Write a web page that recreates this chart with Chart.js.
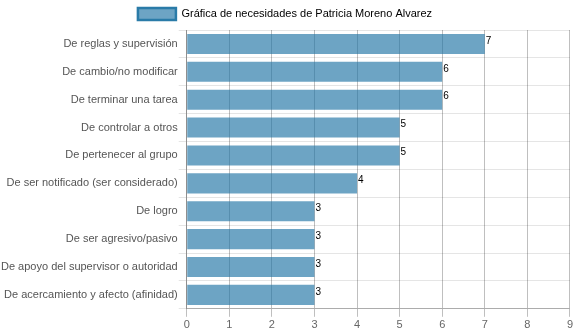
<!DOCTYPE html>
<html>
<head>
<meta charset="utf-8">
<script src="https://cdn.jsdelivr.net/npm/chart.js@4/dist/chart.umd.min.js"></script>
<style>
  html, body { margin: 0; padding: 0; background: #fff; }
  #wrap { width: 575px; height: 334px; }
</style>
</head>
<body>
<div id="wrap"><canvas id="chart"></canvas></div>
<script>
const categories = [
  "De reglas y supervisión",
  "De cambio/no modificar",
  "De terminar una tarea",
  "De controlar a otros",
  "De pertenecer al grupo",
  "De ser notificado (ser considerado)",
  "De logro",
  "De ser agresivo/pasivo",
  "De apoyo del supervisor o autoridad",
  "De acercamiento y afecto (afinidad)"
];
const values = [7, 6, 6, 5, 5, 4, 3, 3, 3, 3];
const seriesLabel = "Gráfica de necesidades de Patricia Moreno Alvarez";
const xTicks = [0, 1, 2, 3, 4, 5, 6, 7, 8, 9];

Chart.defaults.font.family = "'Liberation Sans', Arial, sans-serif";
Chart.defaults.font.size = 11;
Chart.defaults.color = "#666";

// numbers at the end of each bar
const valueLabels = {
  id: "valueLabels",
  afterDatasetsDraw(chart) {
    const ctx = chart.ctx;
    const meta = chart.getDatasetMeta(0);
    ctx.save();
    ctx.font = "10px 'Liberation Sans', Arial, sans-serif";
    ctx.fillStyle = "#000";
    ctx.textAlign = "left";
    ctx.textBaseline = "middle";
    meta.data.forEach((bar, i) => {
      ctx.fillText(values[i], bar.x + 1, bar.y - 3);
    });
    ctx.restore();
  }
};

new Chart(document.getElementById("chart").getContext("2d"), {
  type: "bar",
  data: {
    labels: categories,
    datasets: [{
      label: seriesLabel,
      data: values,
      backgroundColor: "rgba(30, 115, 165, 0.65)",
      borderWidth: 0
    }]
  },
  options: {
    indexAxis: "y",
    responsive: true,
    maintainAspectRatio: false,
    animation: false,
    layout: { padding: { left: 0, right: 5, top: 0, bottom: 0 } },
    plugins: {
      legend: {
        labels: {
          boxWidth: 38,
          boxHeight: 12,
          padding: 8,
          color: "#666",
          generateLabels(chart) {
            return [{
              text: seriesLabel,
              fillStyle: "rgba(30, 115, 165, 0.65)",
              strokeStyle: "#2a7ba8",
              lineWidth: 2.5,
              datasetIndex: 0
            }];
          }
        }
      },
      tooltip: { enabled: false }
    },
    scales: {
      x: {
        min: 0,
        max: 9,
        afterBuildTicks(axis) {
          axis.ticks = xTicks.map(v => ({ value: v }));
        },
        grid: { color: "rgba(0,0,0,0.25)", tickLength: 8 },
        border: { color: "rgba(0,0,0,0.25)" },
        ticks: { color: "#666", padding: 2 }
      },
      y: {
        grid: { color: "rgba(0,0,0,0.1)", offset: true, tickLength: 8 },
        border: { color: "rgba(0,0,0,0.25)" },
        ticks: { color: "#555", padding: 1, autoSkip: false }
      }
    }
  },
  plugins: [valueLabels]
});
</script>
</body>
</html>
